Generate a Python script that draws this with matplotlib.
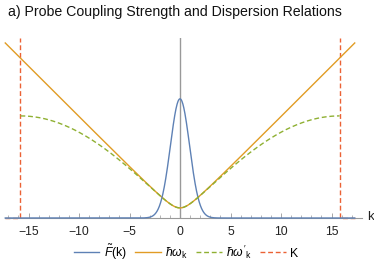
import numpy as np
import matplotlib
matplotlib.use("Agg")
import matplotlib.pyplot as plt

# parametros
K = 15.8            # corte (linhas vermelhas)
m = 1.0             # gap em k = 0
F0 = 11.8           # pico da gaussiana
sigma = 0.95        # largura da gaussiana
kmax = 17.3         # faixa plotada

x_ticks = [-15, -10, -5, 0, 5, 10, 15]
x_labels = ["\u221215", "\u221210", "\u22125", "0", "5", "10", "15"]
legend_labels = [r"$\tilde{F}$(k)", r"$\hbar\omega_{\rm k}$", r"$\hbar\omega'_{\rm k}$", "K"]

c_blue = "#5E81B5"
c_orange = "#E19C24"
c_green = "#8FB032"
c_red = "#EB6235"

plt.rcParams["font.family"] = ["Liberation Sans", "DejaVu Sans"]
plt.rcParams["mathtext.fontset"] = "custom"
plt.rcParams["mathtext.rm"] = "Liberation Sans"
plt.rcParams["mathtext.it"] = "Liberation Sans:italic"

k = np.linspace(-kmax, kmax, 1201)
kin = np.linspace(-K, K, 801)
F = F0 * np.exp(-k**2 / (2 * sigma**2))
w = np.sqrt(m**2 + k**2)
wp = np.sqrt(m**2 + (2 * K / np.pi * np.sin(np.pi * kin / (2 * K)))**2)

fig = plt.figure(figsize=(3.74, 2.66), dpi=100)
# eixos em pixels: 0 em x=180, ~10.1 px por unidade; y=0 em 218
sx = 10.1
x0, xr = 5, 362
ytop, ybot = 38, 218
ax = fig.add_axes([x0 / 374, (266 - ybot) / 266, (xr - x0) / 374, (ybot - ytop) / 266])
ax.set_xlim((x0 - 180) / sx, (xr - 180) / sx)
ytopv = (ybot - ytop) / sx
ax.set_ylim(0, ytopv)

ax.plot(k, F, color=c_blue, lw=1.0, label=legend_labels[0], clip_on=False, zorder=4)
ax.plot(k, w, color=c_orange, lw=1.0, label=legend_labels[1], clip_on=False, zorder=3)
ax.plot(kin, wp, color=c_green, lw=1.0, ls=(0, (3.5, 2)), label=legend_labels[2], zorder=5)
ax.plot([-kmax, -K, -K], [0, 0, ytopv], color=c_red, lw=1.0, ls=(0, (3.5, 2)), label=legend_labels[3], clip_on=False, zorder=2)
ax.plot([kmax, K, K], [0, 0, ytopv], color=c_red, lw=1.0, ls=(0, (3.5, 2)), clip_on=False, zorder=2)

for s in ["top", "right", "left"]:
    ax.spines[s].set_visible(False)
ax.spines["bottom"].set_color("#999999")
ax.spines["bottom"].set_linewidth(0.8)
ax.axvline(0, color="#999999", lw=1.0, zorder=1)
ax.set_yticks([])
ax.set_xticks(x_ticks)
ax.set_xticklabels(x_labels, fontsize=8.8, color="#222222")
ax.set_xticks(np.arange(-17, 18, 1), minor=True)
ax.tick_params(axis="x", which="major", direction="in", length=3.5, width=0.6, color="#999999", pad=6)
ax.tick_params(axis="x", which="minor", direction="in", length=2, width=0.5, color="#999999")
ax.set_facecolor("none")

fig.text(370 / 374, (266 - 217) / 266, "k", fontsize=9.5, ha="center", va="center", color="#222222")
fig.text(8 / 374, (266 - 12) / 266, "a) Probe Coupling Strength and Dispersion Relations", fontsize=10.2, ha="left", va="center", color="#111111")

fig.legend(loc="center", bbox_to_anchor=(186 / 374, (266 - 252) / 266), ncol=4, frameon=False,
           fontsize=8.8, handlelength=2.1, handletextpad=0.35, columnspacing=0.7)

plt.savefig("out.png", dpi=100)
plt.close()
